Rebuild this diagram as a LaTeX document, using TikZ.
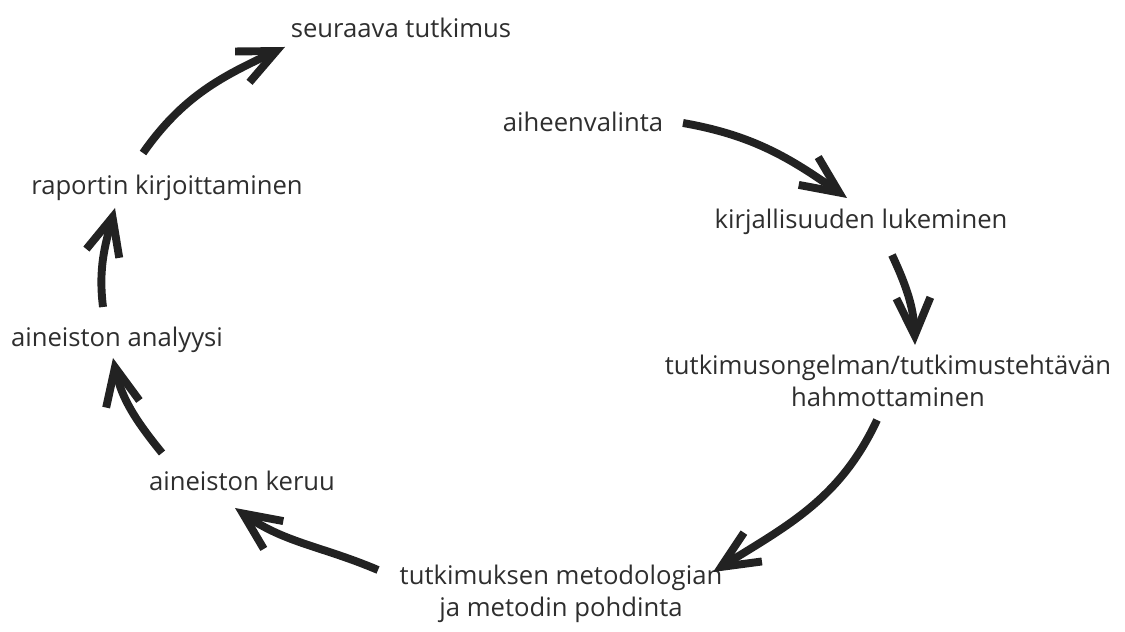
\documentclass[tikz,border=0pt]{standalone}
\usepackage{fontspec}
\setmainfont{Open Sans}
\usepackage{xcolor}
\usepackage{tikz}
\usetikzlibrary{arrows.meta}

\definecolor{ink}{HTML}{2E2E2E}
\definecolor{arrink}{HTML}{222222}

\begin{document}
\begin{tikzpicture}[
  lbl/.style={align=center, inner sep=0pt, text=ink, font=\fontsize{14.6}{18}\selectfont},
  arr/.style={draw=arrink, line width=4.5pt, -{Straight Barb[length=7.5mm, width=6.8mm, sharp]}}]
\useasboundingbox (0,0) rectangle (22.5,12.62);
\node[lbl] (seur) at (8.02,12.06) {seuraava tutkimus};
\node[lbl] (aihe) at (11.66,10.18) {aiheenvalinta};
\node[lbl] (kirj) at (17.22,8.18) {kirjallisuuden lukeminen};
\node[lbl] (ong) at (17.76,5.00) {tutkimusongelman/tutkimustehtävän\\hahmottaminen};
\node[lbl] (met) at (11.22,0.74) {tutkimuksen metodologian\\ja metodin pohdinta};
\node[lbl] (ker) at (4.84,3.00) {aineiston keruu};
\node[lbl] (ana) at (2.34,5.82) {aineiston analyysi};
\node[lbl] (rap) at (3.34,8.86) {raportin kirjoittaminen};
% kierros myotapaivaan
\draw[arr] ([shift={(2.00,-0.02)}]aihe.center) to[out=-10, in=145] ([shift={(-0.28,0.48)}]kirj.center);
\draw[arr] ([shift={(0.62,-0.66)}]kirj.center) to[out=-65, in=92] ([shift={(0.54,0.72)}]ong.center);
\draw[arr] ([shift={(-0.22,-0.78)}]ong.center) to[out=-115, in=32] ([shift={(3.04,0.44)}]met.center);
\draw[arr] ([shift={(-3.66,0.48)}]met.center) to[out=157, in=-35] ([shift={(-0.14,-0.54)}]ker.center);
\draw[arr] ([shift={(-1.60,0.56)}]ker.center) to[out=129, in=-78] ([shift={(-0.08,-0.36)}]ana.center);
\draw[arr] ([shift={(-0.28,0.66)}]ana.center) to[out=97, in=-105] ([shift={(-1.04,-0.40)}]rap.center);
\draw[arr] ([shift={(-0.48,0.70)}]rap.center) to[out=55, in=205] ([shift={(-2.32,-0.38)}]seur.center);
\end{tikzpicture}
\end{document}
